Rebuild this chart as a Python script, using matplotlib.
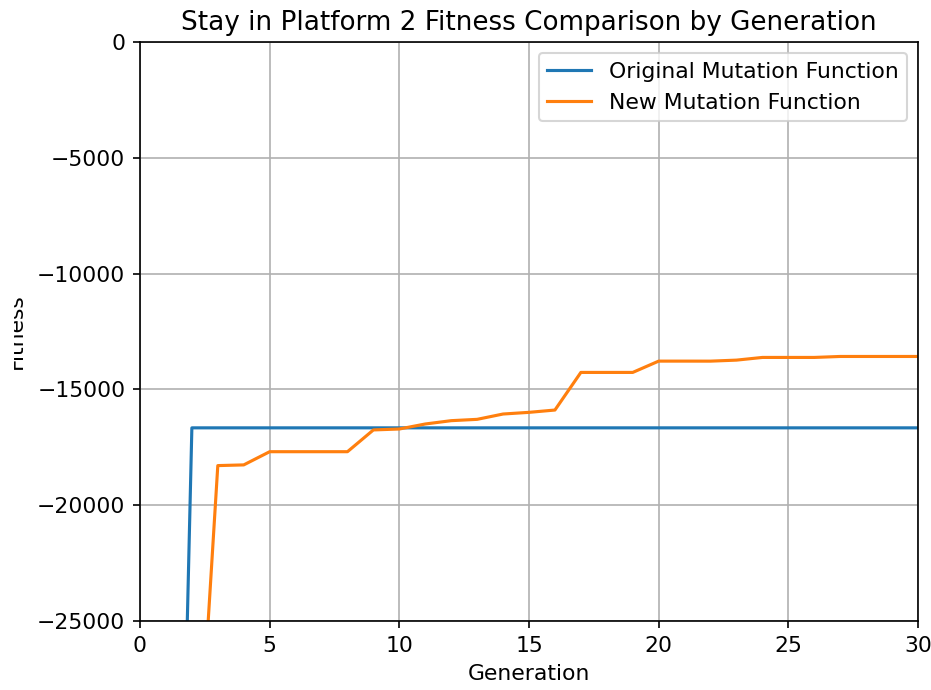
import matplotlib
matplotlib.use("Agg")
import matplotlib.pyplot as plt
from matplotlib.patches import Rectangle

# fitness per generation
generations = list(range(1, 31))
original_fitness = [-64000] + [-16660] * 29
new_fitness = [-64000, -36400, -18290, -18260, -17690, -17690, -17690, -17690,
               -16750, -16710, -16494, -16350, -16293, -16063, -15991, -15891,
               -14267, -14267, -14267, -13779, -13779, -13780, -13736, -13620,
               -13620, -13620, -13578, -13578, -13578, -13578]

plt.rcParams['font.size'] = 10.5

fig = plt.figure(figsize=(932 / 150, 690 / 150), dpi=150)
ax = fig.add_axes([140 / 932, 1 - 621 / 690, 778 / 932, 579 / 690])

ax.plot(generations, original_fitness, label='Original Mutation Function')
ax.plot(generations, new_fitness, label='New Mutation Function')
ax.set_xlim(0, 30)
ax.set_ylim(-25000, 0)
ax.set_title('Stay in Platform 2 Fitness Comparison by Generation')
ax.set_xlabel('Generation')
ax.set_ylabel('Fitness')
ax.yaxis.set_label_coords(-0.147, 0.5)
ax.grid(True)
ax.legend(loc='upper right')

# the reference image is cropped on the left, cutting the y label
fig.patches.append(Rectangle((0, 0), 13 / 932, 1, transform=fig.transFigure,
                             color='white', zorder=10))

fig.savefig('out.png', dpi=150)
